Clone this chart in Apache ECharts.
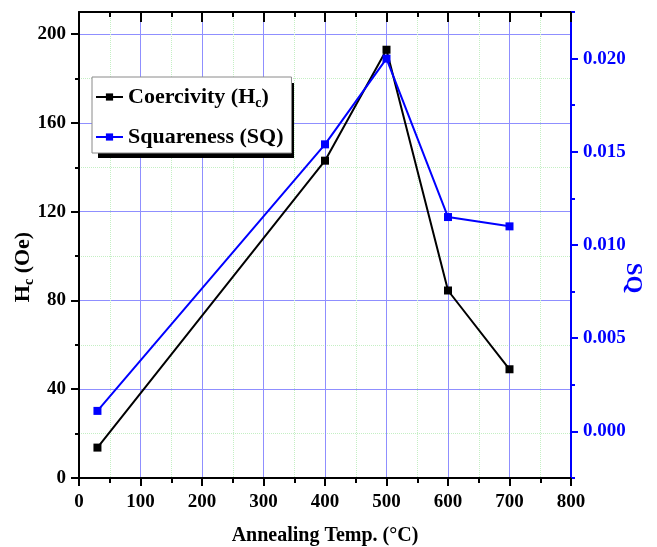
<!DOCTYPE html>
<html>
<head>
<meta charset="utf-8"/>
<title>Coercivity and squareness</title>
<script src="https://cdn.jsdelivr.net/npm/echarts@6/dist/echarts.min.js"></script>
</head>
<body style="margin:0;background:#fff">
<div id="main" style="width:657px;height:547px;"></div>
<script type="text/javascript">
// values
var temps = [30, 400, 500, 600, 700];
var coercivity = [13.7, 143, 193, 84.5, 49];
var squareness = [0.0011, 0.0154, 0.0200, 0.0115, 0.0110];

var hcTicks = [0, 40, 80, 120, 160, 200];
var hcMinorTicks = [20, 60, 100, 140, 180];
var sqTicks = [0, 0.005, 0.010, 0.015, 0.020];
var sqMinorTicks = [-0.0025, 0.0025, 0.0075, 0.0125, 0.0175, 0.0225];

var serif = 'Liberation Serif';
var blue = '#0000ff';
var gridBlue = '#8f8fff';
var gridGreen = '#c4efc4';

function pairs(xs, ys) {
    return xs.map(function (x, i) { return [x, ys[i]]; });
}

var labelFont = { fontFamily: serif, fontWeight: 'bold', fontSize: 19, color: '#000' };

var dom = document.getElementById('main');
var myChart = echarts.init(dom);
var option = {
    backgroundColor: '#fff',
    animation: false,
    grid: { left: 79, right: 86, top: 12, bottom: 69, containLabel: false, outerBoundsMode: 'none' },
    // drop shadow behind the legend box
    graphic: [{
        type: 'rect',
        left: 98, top: 83,
        shape: { width: 196, height: 75 },
        style: { fill: '#000' },
        z: 90
    }],
    legend: {
        orient: 'vertical',
        left: 92,
        top: 77,
        z: 100,
        padding: [7, 8, 5, 3],
        itemGap: 16,
        itemWidth: 27,
        itemHeight: 9,
        backgroundColor: '#fff',
        borderColor: '#8a8a8a',
        borderWidth: 1,
        data: ['Coercivity (Hc)', 'Squareness (SQ)'],
        formatter: function (name) {
            if (name === 'Coercivity (Hc)') return '{t|Coercivity (H}{s|c}{t|)}';
            return '{t|' + name + '}';
        },
        textStyle: {
            fontFamily: serif, fontWeight: 'bold', fontSize: 22, color: '#000',
            rich: {
                t: { fontFamily: serif, fontWeight: 'bold', fontSize: 22, lineHeight: 24, color: '#000' },
                s: { fontFamily: serif, fontWeight: 'bold', fontSize: 14, lineHeight: 24, color: '#000', padding: [12, 0, 0, 0] }
            }
        }
    },
    xAxis: [{
        type: 'value',
        position: 'bottom',
        min: 0, max: 800, interval: 100,
        name: 'Annealing Temp. (°C)',
        nameLocation: 'middle',
        nameGap: 48,
        nameMoveOverlap: false,
        nameTextStyle: { fontFamily: serif, fontWeight: 'bold', fontSize: 20, color: '#000' },
        axisLine: { show: true, onZero: false, lineStyle: { color: '#000', width: 2 } },
        axisTick: { show: true, inside: false, length: 8, lineStyle: { color: '#000', width: 2 } },
        minorTick: { show: true, splitNumber: 2, length: 5, lineStyle: { color: '#000', width: 2 } },
        axisLabel: Object.assign({ margin: 15 }, labelFont),
        splitLine: { show: true, lineStyle: { color: gridBlue, width: 1 } },
        minorSplitLine: { show: true, lineStyle: { color: gridGreen, width: 1, type: 'dotted' } }
    }, {
        type: 'value',
        position: 'top',
        min: 0, max: 800, interval: 100,
        axisLine: { show: true, onZero: false, lineStyle: { color: '#000', width: 2 } },
        axisTick: { show: true, inside: true, length: 10, lineStyle: { color: '#000', width: 2 } },
        minorTick: { show: true, splitNumber: 2, length: 5, lineStyle: { color: '#000', width: 2 } },
        axisLabel: { show: false },
        splitLine: { show: false }
    }],
    yAxis: [{
        type: 'value',
        position: 'left',
        min: 0, max: 210,
        name: '{b|H}{s|c}{b| (Oe)}',
        nameLocation: 'middle',
        nameGap: 44,
        nameMoveOverlap: false,
        nameTextStyle: {
            padding: [0, 44, 0, 0],
            rich: {
                b: { fontFamily: serif, fontWeight: 'bold', fontSize: 22, lineHeight: 24, color: '#000' },
                s: { fontFamily: serif, fontWeight: 'bold', fontSize: 14, lineHeight: 24, color: '#000', padding: [12, 0, 0, 0] }
            }
        },
        axisLine: { show: true, onZero: false, lineStyle: { color: '#000', width: 2 } },
        axisTick: { show: true, length: 8, customValues: hcTicks, lineStyle: { color: '#000', width: 2 } },
        axisLabel: Object.assign({ margin: 13, customValues: hcTicks }, labelFont),
        splitLine: { show: true, lineStyle: { color: gridBlue, width: 1 } }
    }, {
        type: 'value',
        position: 'right',
        min: -0.0025, max: 0.0225,
        name: 'SQ',
        nameLocation: 'middle',
        nameRotate: -90,
        nameGap: 50,
        nameMoveOverlap: false,
        nameTextStyle: {
            fontFamily: serif, fontWeight: 'bold', fontSize: 23, color: blue,
            padding: [0, 0, 0, 66]
        },
        axisLine: { show: true, onZero: false, lineStyle: { color: blue, width: 2 } },
        axisTick: { show: true, length: 7, customValues: sqTicks, lineStyle: { color: blue, width: 2 } },
        axisLabel: {
            margin: 12, customValues: sqTicks,
            fontFamily: serif, fontWeight: 'bold', fontSize: 19, color: blue,
            formatter: function (v) { return v.toFixed(3); }
        },
        splitLine: { show: false }
    }, {
        type: 'value',
        position: 'left',
        min: 0, max: 210,
        axisLine: { show: false, onZero: false },
        axisTick: { show: true, length: 4, customValues: hcMinorTicks, lineStyle: { color: '#000', width: 2 } },
        axisLabel: { show: false },
        splitLine: { show: true, lineStyle: { color: gridGreen, width: 1, type: 'dotted' } }
    }, {
        type: 'value',
        position: 'right',
        min: -0.0025, max: 0.0225,
        axisLine: { show: false, onZero: false },
        axisTick: { show: true, length: 4, customValues: sqMinorTicks, lineStyle: { color: blue, width: 2 } },
        axisLabel: { show: false },
        splitLine: { show: false }
    }],
    series: [{
        name: 'Coercivity (Hc)',
        type: 'line',
        xAxisIndex: 0,
        yAxisIndex: 0,
        data: pairs(temps, coercivity),
        symbol: 'rect',
        symbolSize: 8,
        lineStyle: { color: '#000', width: 2 },
        itemStyle: { color: '#000' },
        z: 3
    }, {
        name: 'Squareness (SQ)',
        type: 'line',
        xAxisIndex: 0,
        yAxisIndex: 1,
        data: pairs(temps, squareness),
        symbol: 'rect',
        symbolSize: 8,
        lineStyle: { color: blue, width: 2 },
        itemStyle: { color: blue },
        z: 4
    }]
};
myChart.setOption(option);
</script>
</body>
</html>
